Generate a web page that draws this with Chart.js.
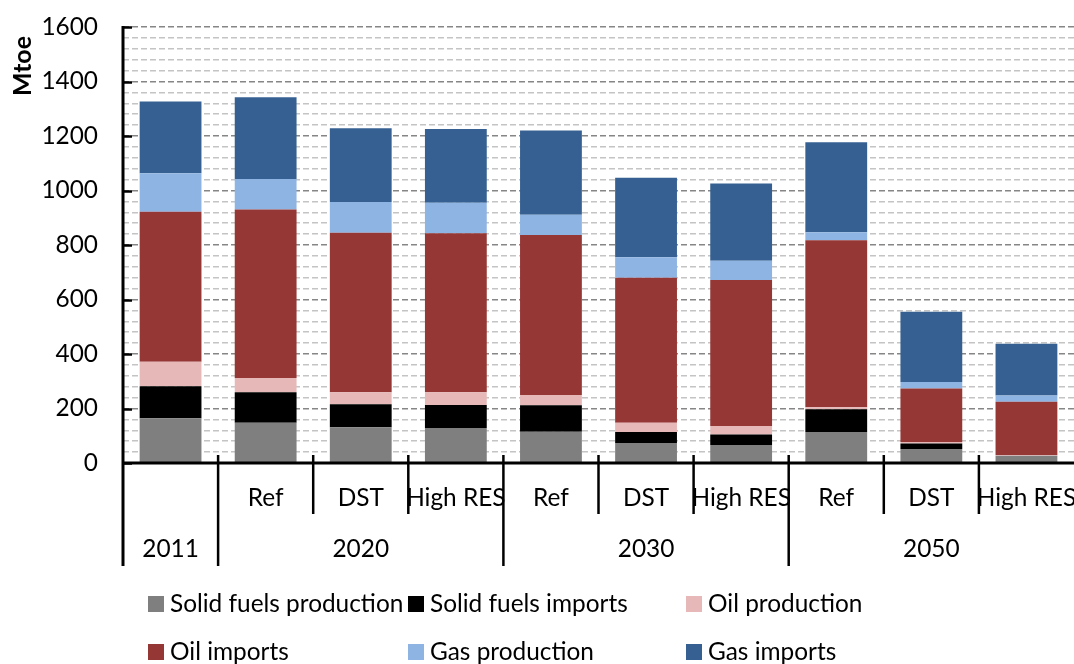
<!DOCTYPE html>
<html>
<head>
<meta charset="utf-8">
<script src="https://cdn.jsdelivr.net/npm/chart.js@4.4.1/dist/chart.umd.min.js"></script>
<style>
html,body{margin:0;padding:0;background:#fff;overflow:hidden;}
#wrap{position:relative;width:1074px;height:664px;}
</style>
</head>
<body>
<div id="wrap"><canvas id="c" width="1074" height="664"></canvas></div>
<script>
// ---- data ----
const scenarios = ['', 'Ref', 'DST', 'High RES', 'Ref', 'DST', 'High RES', 'Ref', 'DST', 'High RES'];
const yearLabels = ['2011', '2020', '2030', '2050'];
const yearSpans = [1, 3, 3, 3];
const seriesNames = ['Solid fuels production', 'Solid fuels imports', 'Oil production', 'Oil imports', 'Gas production', 'Gas imports'];
const solidProduction = [164, 148, 131, 128, 115, 73, 66, 114, 51, 27];
const solidImports    = [118, 112, 85, 85, 97, 41, 39, 83, 21, 0];
const oilProduction   = [90, 52, 44, 47, 38, 34, 31, 8, 5, 2];
const oilImports      = [550, 618, 585, 583, 587, 532, 536, 612, 196, 196];
const gasProduction   = [141, 112, 113, 112, 74, 75, 70, 30, 24, 23];
const gasImports      = [264, 300, 270, 271, 309, 292, 284, 330, 258, 190];
const yTickLabels = [0, 200, 400, 600, 800, 1000, 1200, 1400, 1600];
const seriesColors = ['#7f7f7f', '#000000', '#e6b9b8', '#953735', '#8eb4e3', '#376092'];

// ---- font sizing ----
const FAMILY = 'Lato, "Open Sans", sans-serif';
const mctx = document.createElement('canvas').getContext('2d');
mctx.font = '100px ' + FAMILY;
let FS = Math.round(100 * 233 / mctx.measureText('Solid fuels production').width * 10) / 10;
mctx.font = 'bold 100px ' + FAMILY;
let FSB = Math.round(100 * 60 / mctx.measureText('Mtoe').width * 10) / 10;

// ---- layout constants ----
const AX_LEFT = 123, AX_TOP = 27, AX_BOTTOM = 463;
const LVL1_BOTTOM = 514, LVL2_BOTTOM = 566;

const allSeries = [solidProduction, solidImports, oilProduction, oilImports, gasProduction, gasImports];
const datasets = allSeries.map((d, i) => ({
  label: seriesNames[i],
  data: d,
  backgroundColor: seriesColors[i],
  borderWidth: 0,
  barPercentage: 0.65,
  categoryPercentage: 1.0
}));

const overlay = {
  id: 'overlay',
  afterDatasetsDraw(chart) {
    const ctx = chart.ctx;
    const xs = chart.scales.x, ys = chart.scales.y;
    const right = chart.chartArea.right;
    const top = chart.chartArea.top;
    ctx.save();
    ctx.strokeStyle = '#000';
    // y major tick marks (inside)
    ctx.lineWidth = 2.5;
    yTickLabels.forEach(v => {
      const y = Math.round(ys.getPixelForValue(v)) + 0.5;
      ctx.beginPath(); ctx.moveTo(AX_LEFT, y); ctx.lineTo(AX_LEFT + 9, y); ctx.stroke();
    });
    // category boundaries
    let yearBounds = new Set();
    let acc = 0;
    yearSpans.forEach(s => { acc += s; yearBounds.add(acc); });
    for (let i = 1; i < scenarios.length; i++) {
      const x = (xs.getPixelForValue(i - 1) + xs.getPixelForValue(i)) / 2;
      const bottom = yearBounds.has(i) ? LVL2_BOTTOM : LVL1_BOTTOM;
      ctx.beginPath(); ctx.moveTo(x, AX_BOTTOM - 8); ctx.lineTo(x, bottom); ctx.stroke();
    }
    // axes
    ctx.lineWidth = 3;
    ctx.beginPath(); ctx.moveTo(AX_LEFT, top - 1); ctx.lineTo(AX_LEFT, LVL2_BOTTOM); ctx.stroke();
    ctx.beginPath(); ctx.moveTo(AX_LEFT - 1, AX_BOTTOM); ctx.lineTo(right, AX_BOTTOM); ctx.stroke();
    ctx.fillStyle = '#000';
    ctx.font = FS + 'px ' + FAMILY;
    ctx.textBaseline = 'middle';
    // y tick labels
    ctx.textAlign = 'right';
    yTickLabels.forEach(v => ctx.fillText(String(v), 98, ys.getPixelForValue(v)));
    // level 1 labels
    ctx.textAlign = 'center';
    scenarios.forEach((s, i) => {
      if (s) ctx.fillText(s, xs.getPixelForValue(i), 498);
    });
    // level 2 labels
    let start = 0;
    yearLabels.forEach((y, k) => {
      const end = start + yearSpans[k] - 1;
      const cx = (xs.getPixelForValue(start) + xs.getPixelForValue(end)) / 2;
      ctx.fillText(y, cx, 549);
      start = end + 1;
    });
    // y title
    ctx.save();
    ctx.translate(23, 66);
    ctx.rotate(-Math.PI / 2);
    ctx.font = 'bold ' + FSB + 'px ' + FAMILY;
    ctx.fillText('Mtoe', 0, 0);
    ctx.restore();
    // legend
    const colX = [148, 408, 686];
    const rowY = [604, 652];
    ctx.textAlign = 'left';
    chart.data.datasets.forEach((ds, i) => {
      const c = i % 3, r = Math.floor(i / 3);
      const sx = colX[c], cy = rowY[r];
      ctx.fillStyle = ds.backgroundColor;
      ctx.fillRect(sx, cy - 8, 16, 16);
      ctx.fillStyle = '#000';
      ctx.fillText(ds.label, sx + 22, cy);
    });
    ctx.restore();
  }
};

new Chart(document.getElementById('c'), {
  type: 'bar',
  data: { labels: scenarios.map((s, i) => i + ':' + s), datasets },
  options: {
    responsive: false,
    animation: false,
    events: [],
    layout: { padding: { top: AX_TOP, right: 0, left: 0, bottom: 0 } },
    plugins: { legend: { display: false }, tooltip: { enabled: false } },
    scales: {
      x: {
        stacked: true,
        ticks: { display: false },
        grid: { display: false, drawTicks: false },
        border: { display: false },
        afterFit(s) { s.height = 664 - AX_BOTTOM; }
      },
      y: {
        stacked: true,
        min: 0, max: 1600,
        afterBuildTicks(s) {
          const t = [];
          for (let v = 0; v <= 1600; v += 40) t.push({ value: v });
          s.ticks = t;
        },
        ticks: { display: false, autoSkip: false },
        grid: {
          drawTicks: false,
          lineWidth: 1.5,
          color: c => (c.tick && c.tick.value % 200 === 0 ? '#868686' : '#c4c4c4')
        },
        border: { display: false, dash: [6, 3] },
        afterFit(s) { s.width = AX_LEFT; }
      }
    }
  },
  plugins: [overlay]
});
</script>
</body>
</html>
